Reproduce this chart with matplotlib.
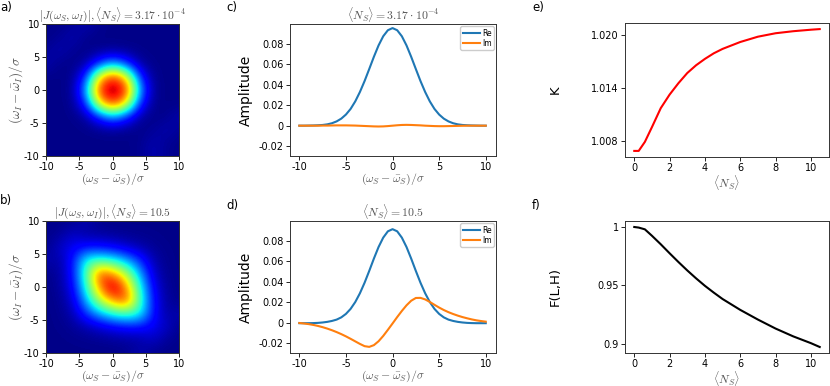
import matplotlib
matplotlib.use('Agg')
import matplotlib.pyplot as plt
import numpy as np

plt.rcParams['mathtext.fontset'] = 'cm'
plt.rcParams['axes.unicode_minus'] = False

# |J| maps, coarse 11x11 grid (rows y=10 .. -10, cols x=-10 .. 10)
J_low = [
    [0.01, 0.01, 0.02, 0.045, 0.015, 0.01, 0.01, 0.01, 0.01, 0.01, 0.01],
    [0.01, 0.02, 0.045, 0.015, 0.01, 0.01, 0.01, 0.01, 0.01, 0.01, 0.01],
    [0.02, 0.045, 0.02, 0.01, 0.014, 0.019, 0.014, 0.01, 0.01, 0.01, 0.01],
    [0.045, 0.015, 0.01, 0.03, 0.17, 0.287, 0.17, 0.03, 0.01, 0.01, 0.01],
    [0.01, 0.01, 0.014, 0.17, 0.665, 0.88, 0.665, 0.17, 0.014, 0.01, 0.01],
    [0.01, 0.01, 0.019, 0.287, 0.88, 1.0, 0.88, 0.287, 0.019, 0.01, 0.01],
    [0.01, 0.01, 0.014, 0.17, 0.665, 0.88, 0.665, 0.17, 0.014, 0.01, 0.01],
    [0.01, 0.01, 0.01, 0.03, 0.17, 0.287, 0.17, 0.03, 0.01, 0.015, 0.045],
    [0.01, 0.01, 0.01, 0.01, 0.014, 0.019, 0.014, 0.01, 0.02, 0.045, 0.02],
    [0.01, 0.01, 0.01, 0.01, 0.01, 0.01, 0.01, 0.015, 0.045, 0.02, 0.01],
    [0.01, 0.01, 0.01, 0.01, 0.01, 0.01, 0.01, 0.015, 0.045, 0.02, 0.01],
]
J_high = [
    [0.01, 0.01, 0.014, 0.046, 0.015, 0.01, 0.01, 0.01, 0.01, 0.01, 0.01],
    [0.012, 0.022, 0.063, 0.03, 0.027, 0.022, 0.017, 0.014, 0.012, 0.01, 0.01],
    [0.012, 0.063, 0.105, 0.134, 0.13, 0.106, 0.073, 0.043, 0.022, 0.012, 0.01],
    [0.047, 0.03, 0.134, 0.39, 0.436, 0.392, 0.296, 0.172, 0.043, 0.014, 0.01],
    [0.012, 0.027, 0.13, 0.436, 0.85, 0.76, 0.57, 0.296, 0.073, 0.017, 0.01],
    [0.011, 0.022, 0.106, 0.392, 0.76, 1.0, 0.76, 0.392, 0.106, 0.022, 0.011],
    [0.01, 0.017, 0.073, 0.296, 0.57, 0.76, 0.85, 0.436, 0.13, 0.027, 0.012],
    [0.01, 0.014, 0.043, 0.172, 0.296, 0.392, 0.436, 0.39, 0.134, 0.03, 0.047],
    [0.01, 0.012, 0.022, 0.043, 0.073, 0.106, 0.13, 0.134, 0.105, 0.063, 0.012],
    [0.01, 0.01, 0.012, 0.014, 0.017, 0.022, 0.027, 0.03, 0.063, 0.022, 0.012],
    [0.01, 0.01, 0.01, 0.01, 0.01, 0.01, 0.015, 0.046, 0.014, 0.01, 0.01],
]

# marginal amplitudes, sampled every 0.5 from -10 to 10
w = np.linspace(-10, 10, 41)
re_low = [0.0, 0.0, 0.0001, 0.0002, 0.0004, 0.0007, 0.0013, 0.0024, 0.0042, 0.0069,
          0.0109, 0.0164, 0.0238, 0.0330, 0.0437, 0.0555, 0.0675, 0.0786, 0.0876, 0.0935,
          0.0956,
          0.0935, 0.0876, 0.0786, 0.0675, 0.0555, 0.0437, 0.0330, 0.0238, 0.0164, 0.0109,
          0.0069, 0.0042, 0.0024, 0.0013, 0.0007, 0.0004, 0.0002, 0.0001, 0.0, 0.0]
im_low = [0, 0, 0, 0, 0, 0.0001, 0.0001, 0.0002, 0.0003, 0.0003,
          0.0003, 0.0002, 0.0001, -0.0001, -0.0003, -0.0005, -0.0007, -0.0008, -0.0007, -0.0004,
          0.0,
          0.0004, 0.0007, 0.0008, 0.0007, 0.0005, 0.0003, 0.0, -0.0002, -0.0004, -0.0005,
          -0.0005, -0.0004, -0.0003, -0.0002, -0.0001, 0, 0, 0, 0, 0]
re_high = [-0.0005, -0.0005, -0.0005, -0.0004, -0.0002, 0.0002, 0.0008, 0.0017, 0.0030, 0.0052,
           0.0086, 0.0135, 0.0202, 0.0288, 0.0391, 0.0507, 0.0628, 0.0741, 0.0833, 0.0895,
           0.0916,
           0.0895, 0.0833, 0.0741, 0.0628, 0.0507, 0.0391, 0.0288, 0.0202, 0.0135, 0.0086,
           0.0052, 0.0030, 0.0017, 0.0008, 0.0002, -0.0002, -0.0004, -0.0005, -0.0005, -0.0005]
im_high = [-0.0003, -0.0008, -0.0014, -0.0022, -0.0032, -0.0044, -0.0058, -0.0074, -0.0092, -0.0112,
           -0.0134, -0.0158, -0.0183, -0.0208, -0.0230, -0.0237, -0.0220, -0.0182, -0.0130, -0.0070,
           -0.0008,
           0.0055, 0.0115, 0.0170, 0.0215, 0.0242, 0.0243, 0.0228, 0.0203, 0.0175, 0.0148,
           0.0124, 0.0103, 0.0085, 0.0069, 0.0055, 0.0043, 0.0032, 0.0023, 0.0016, 0.0010]

# K and fidelity against mean photon number
Ns = [0, 0.25, 0.6, 1.0, 1.5, 2.0, 2.5, 3.0, 3.5, 4.0, 4.5, 5.0, 6.0, 7.0, 8.0, 9.0, 10.0, 10.5]
K = [1.00686, 1.00686, 1.00788, 1.00955, 1.01170, 1.01323, 1.01452, 1.01567, 1.01655,
     1.01727, 1.01790, 1.01840, 1.01918, 1.01978, 1.02017, 1.02040, 1.02057, 1.02064]
F = [1.0, 0.9995, 0.9980, 0.9925, 0.9852, 0.9775, 0.9700, 0.9628, 0.9560,
     0.9496, 0.9438, 0.9383, 0.9290, 0.9207, 0.9130, 0.9063, 0.9005, 0.8972]

title_low = r'$\langle N_S\rangle = 3.17\cdot 10^{-4}$'
title_high = r'$\langle N_S\rangle = 10.5$'
xlab = r'$(\omega_S-\bar{\omega}_S)/\sigma$'
ylab = r'$(\omega_I-\bar{\omega}_I)/\sigma$'
gray = '#555555'

fig = plt.figure(figsize=(8.3, 3.86), dpi=100)
W, H = 830., 386.

def box(l, r, t, b):
    return [l / W, 1 - b / H, (r - l) / W, (b - t) / H]

def style(ax):
    ax.tick_params(labelsize=7, length=3, width=0.6, pad=1.5)
    for s in ax.spines.values():
        s.set_linewidth(0.7)
        s.set_color('#333333')

# a, b : maps
for grid, ttl, pos in [(J_low, r'$|J(\omega_S,\omega_I)|, \langle N_S\rangle = 3.17\cdot 10^{-4}$', box(46, 179, 24, 156)),
                       (J_high, r'$|J(\omega_S,\omega_I)|, \langle N_S\rangle = 10.5$', box(46, 179, 221, 353))]:
    ax = fig.add_axes(pos)
    ax.imshow(np.array(grid), cmap='jet', vmin=0, vmax=1, extent=[-11, 11, -11, 11],
              origin='upper', interpolation='bicubic', aspect='auto')
    ax.set_xlim(-10, 10)
    ax.set_ylim(-10, 10)
    ax.set_xticks([-10, -5, 0, 5, 10])
    ax.set_yticks([-10, -5, 0, 5, 10])
    ax.set_title(ttl, fontsize=8.3, color=gray, pad=1.5)
    ax.set_xlabel(xlab, fontsize=8.5, color=gray, labelpad=-0.5)
    ax.set_ylabel(ylab, fontsize=9.5, color=gray, labelpad=-1)
    style(ax)

# c, d : marginals
for re, im, ttl, pos in [(re_low, im_low, title_low, box(290, 496, 24, 156)),
                         (re_high, im_high, title_high, box(290, 496, 221, 353))]:
    ax = fig.add_axes(pos)
    ax.plot(w, re, color='#1f77b4', lw=1.5, label='Re')
    ax.plot(w, im, color='#ff7f0e', lw=1.5, label='Im')
    ax.set_xlim(-11, 11.1)
    ax.set_ylim(-0.0297, 0.0996)
    ax.set_xticks([-10, -5, 0, 5, 10])
    ax.set_yticks([-0.02, 0, 0.02, 0.04, 0.06, 0.08])
    ax.set_yticklabels(['-0.02', '0', '0.02', '0.04', '0.06', '0.08'])
    ax.set_title(ttl, fontsize=8.5, color=gray, pad=1.5)
    ax.set_xlabel(xlab, fontsize=8.5, color=gray, labelpad=-0.5)
    ax.set_ylabel('Amplitude', fontsize=10, labelpad=4)
    ax.legend(loc='upper right', fontsize=5.5, handlelength=2.2, borderpad=0.3,
              labelspacing=0.15, handletextpad=0.3, borderaxespad=0.3, framealpha=1)
    style(ax)

# e : K
ax = fig.add_axes(box(625, 829, 23, 157))
ax.plot(Ns, K, color='red', lw=1.5)
ax.set_xticks([0, 2, 4, 6, 8, 10])
ax.set_yticks([1.008, 1.014, 1.020])
ax.set_yticklabels(['1.008', '1.014', '1.020'])
ax.set_xlabel(r'$\langle N_S\rangle$', fontsize=8.5, color=gray, labelpad=-0.5)
ax.set_ylabel('K', fontsize=9.5)
ax.yaxis.set_label_coords(-0.31, 0.5)
style(ax)

# f : fidelity
ax = fig.add_axes(box(625, 829, 221, 353))
ax.plot(Ns, F, color='black', lw=1.5)
ax.set_xticks([0, 2, 4, 6, 8, 10])
ax.set_yticks([0.9, 0.95, 1.0])
ax.set_yticklabels(['0.9', '0.95', '1'])
ax.set_xlabel(r'$\langle N_S\rangle$', fontsize=8.5, color=gray, labelpad=-0.5)
ax.set_ylabel('F(L,H)', fontsize=9.5)
ax.yaxis.set_label_coords(-0.31, 0.5)
style(ax)

for lab, x, y in [('a)', 0, 8), ('b)', 0, 201), ('c)', 226, 8), ('d)', 226, 205),
                  ('e)', 532, 8), ('f)', 532, 205)]:
    fig.text(x / W, 1 - y / H, lab, fontsize=8.5, va='center', ha='left')

fig.savefig('out.png', dpi=100)
